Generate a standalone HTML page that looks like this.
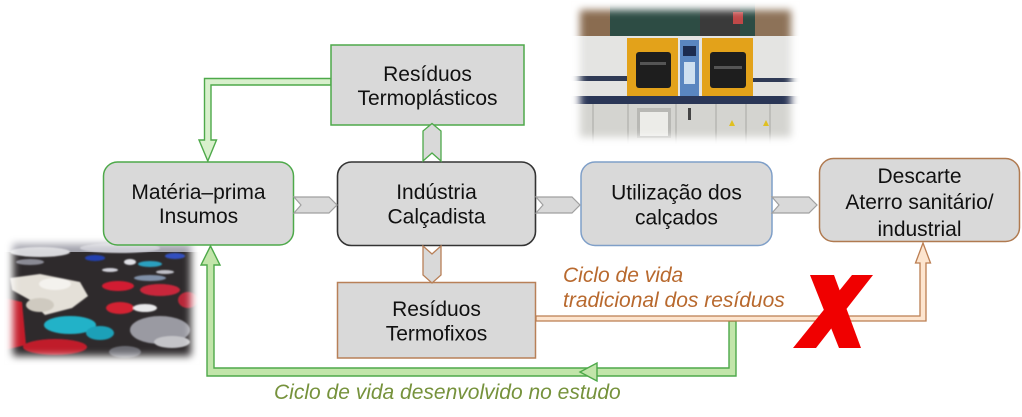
<!DOCTYPE html>
<html><head><meta charset="utf-8"><style>
html,body{margin:0;padding:0;background:#fff;}
svg{display:block;}
text{font-family:"Liberation Sans",Arial,sans-serif;}
</style></head><body>
<svg width="1022" height="417" viewBox="0 0 1022 417" xmlns="http://www.w3.org/2000/svg">
<defs>
<filter id="fs" filterUnits="userSpaceOnUse" x="0" y="200" width="260" height="217"><feGaussianBlur stdDeviation="0.8"/></filter>
<filter id="fb" filterUnits="userSpaceOnUse" x="0" y="0" width="1022" height="417"><feGaussianBlur stdDeviation="4"/></filter>
<clipPath id="c1"><rect x="571" y="1" width="229" height="145"/></clipPath>
<clipPath id="c2"><rect x="4" y="235" width="196" height="130"/></clipPath>
</defs>

<!-- Machine photo -->
<g clip-path="url(#c1)">
<rect x="565" y="0" width="240" height="150" fill="#d6d6d4"/>
<rect x="565" y="0" width="240" height="38" fill="#2d4c44"/>
<rect x="565" y="0" width="45" height="38" fill="#8a6c50"/>
<rect x="755" y="0" width="50" height="38" fill="#8d7258"/>
<rect x="700" y="0" width="40" height="40" fill="#3a3a3a"/>
<rect x="733" y="12" width="10" height="12" fill="#c04848"/>
<rect x="565" y="36" width="240" height="62" fill="#e4e4e2"/>
<rect x="565" y="76" width="62" height="5" fill="#2f3a55"/>
<rect x="753" y="78" width="52" height="4" fill="#2f3a55"/>
<rect x="627" y="38" width="51" height="60" fill="#e3a21a"/>
<rect x="636" y="52" width="35" height="36" rx="3" fill="#1e1e1e"/>
<rect x="640" y="62" width="26" height="3" fill="#555"/>
<rect x="680" y="40" width="19" height="58" fill="#5a86c0"/>
<rect x="683" y="46" width="13" height="10" fill="#1c2c50"/>
<rect x="684" y="62" width="11" height="22" fill="#cfe0f0"/>
<rect x="702" y="38" width="51" height="60" fill="#e3a21a"/>
<rect x="710" y="52" width="36" height="36" rx="3" fill="#1e1e1e"/>
<rect x="714" y="66" width="28" height="3" fill="#555"/>
<rect x="565" y="96" width="240" height="8" fill="#2a3656"/>
<rect x="565" y="104" width="240" height="46" fill="#d4d4d0"/>
<g stroke="#a8a8a4" stroke-width="1">
<line x1="593" y1="104" x2="593" y2="145"/>
<line x1="628" y1="104" x2="628" y2="145"/>
<line x1="676" y1="104" x2="676" y2="145"/>
<line x1="716" y1="104" x2="716" y2="145"/>
<line x1="746" y1="104" x2="746" y2="145"/>
<line x1="770" y1="104" x2="770" y2="145"/>
</g>
<rect x="637" y="108" width="34" height="30" fill="#b8b8b4"/>
<rect x="640" y="112" width="28" height="24" fill="#ecece8"/>
<rect x="688" y="108" width="3" height="12" fill="#444"/>
<polygon points="729,126 732,120 735,126" fill="#e0c020"/>
<polygon points="763,126 766,120 769,126" fill="#e0c020"/>
</g>
<rect x="571" y="1" width="229" height="145" fill="none" stroke="#fff" stroke-width="18" filter="url(#fb)"/>

<!-- Clothes photo -->
<g clip-path="url(#c2)">
<rect x="0" y="230" width="210" height="140" fill="#2e2a2c"/>
<rect x="0" y="230" width="210" height="22" fill="#a2a2ac"/>
<g filter="url(#fs)">
<ellipse cx="40" cy="252" rx="30" ry="5" fill="#d8d8dc"/>
<ellipse cx="120" cy="248" rx="40" ry="5" fill="#c8c8d0"/>
<ellipse cx="30" cy="262" rx="14" ry="3" fill="#8a8a94"/>
<ellipse cx="95" cy="258" rx="10" ry="3" fill="#2040b0"/>
<ellipse cx="130" cy="262" rx="6" ry="3" fill="#e0e0e6"/>
<ellipse cx="150" cy="264" rx="12" ry="3" fill="#2aa0c0"/>
<ellipse cx="175" cy="256" rx="10" ry="3" fill="#3050c0"/>
<ellipse cx="110" cy="270" rx="8" ry="2" fill="#d0d0d8"/>
<ellipse cx="165" cy="272" rx="9" ry="2" fill="#c0c0c8"/>
<polygon points="10,278 40,274 80,282 88,296 72,308 45,315 30,300 12,290" fill="#e4e0d8"/>
<ellipse cx="55" cy="284" rx="16" ry="6" fill="#f4f2ee"/>
<ellipse cx="40" cy="305" rx="14" ry="7" fill="#cfcac0"/>
<ellipse cx="118" cy="286" rx="16" ry="5" fill="#d21e30"/>
<ellipse cx="160" cy="290" rx="20" ry="6" fill="#c8283a"/>
<ellipse cx="188" cy="300" rx="10" ry="8" fill="#b82838"/>
<polygon points="4,298 22,302 26,345 4,350" fill="#c41c2c"/>
<ellipse cx="120" cy="308" rx="14" ry="6" fill="#d22030"/>
<ellipse cx="145" cy="308" rx="12" ry="4" fill="#e8e8ea"/>
<ellipse cx="70" cy="325" rx="26" ry="9" fill="#22b2c8"/>
<ellipse cx="100" cy="333" rx="14" ry="7" fill="#1aa0b8"/>
<ellipse cx="55" cy="347" rx="32" ry="8" fill="#c01c2c"/>
<ellipse cx="160" cy="330" rx="30" ry="14" fill="#9a9aa2"/>
<ellipse cx="172" cy="342" rx="18" ry="6" fill="#c4c4c8"/>
<ellipse cx="125" cy="352" rx="16" ry="6" fill="#6a6a72"/>
<ellipse cx="150" cy="278" rx="16" ry="3" fill="#8090a8"/>
</g>
</g>
<rect x="4" y="235" width="196" height="130" fill="none" stroke="#fff" stroke-width="18" filter="url(#fb)"/>

<!-- Green top connector (Termoplasticos -> Materia) -->
<path d="M331,78.5 L204.5,78.5 L204.5,140 L199,140 L207.8,161 L216.5,140 L211,140 L211,85 L331,85 Z" fill="#d8f0cc" stroke="#4ea94a" stroke-width="1.4"/>

<!-- Green bottom connector -->
<path d="M729,321 L736,321 L736,376 L207,376 L207,265 L201,265 L210.5,246 L220,265 L214,265 L214,368 L729,368 Z" fill="#c2e5aa" stroke="#4ea94a" stroke-width="1.4"/>
<path d="M580,372 L597,363 L597,381 Z" fill="#c2e5aa" stroke="#4ea94a" stroke-width="1.4"/>

<!-- Brown connector -->
<path d="M536,316 L920,316 L920,263 L915.5,263 L923,243 L930.5,263 L926,263 L926,321 L536,321 Z" fill="#fde5cf" stroke="#bb7e52" stroke-width="1.3"/>

<!-- Boxes -->
<rect x="331" y="45" width="193" height="80" fill="#d9d9d9" stroke="#4ea94a" stroke-width="1.5"/>
<rect x="103.5" y="162" width="190" height="83" rx="14" fill="#d9d9d9" stroke="#4ea94a" stroke-width="1.5"/>
<rect x="337.5" y="162" width="198" height="83.5" rx="14" fill="#d9d9d9" stroke="#333" stroke-width="1.6"/>
<rect x="581" y="162" width="191" height="83.5" rx="14" fill="#d9d9d9" stroke="#7f9fc8" stroke-width="1.5"/>
<rect x="819.5" y="158.5" width="200" height="83" rx="14" fill="#d9d9d9" stroke="#b07a50" stroke-width="1.5"/>
<rect x="337.5" y="282.5" width="198" height="75.5" fill="#d9d9d9" stroke="#b88058" stroke-width="1.5"/>

<!-- Chevron arrows -->
<g fill="#d9d9d9" stroke="#a0a0a0" stroke-width="1.2">
<path d="M294,197 L329,197 L337,205 L329,213 L294,213 L301,205 Z"/>
<path d="M536,197 L572,197 L580,205 L572,213 L536,213 L543,205 Z"/>
<path d="M772,197 L809,197 L817,205 L809,213 L772,213 L779,205 Z"/>
</g>
<path d="M423,161 L432,153 L441,161 L441,131 L432,123.5 L423,131 Z" fill="#d9d9d9" stroke="#4ea94a" stroke-width="1.3"/>
<path d="M423,246 L432,254 L441,246 L441,275 L432,283 L423,275 Z" fill="#d9d9d9" stroke="#b88058" stroke-width="1.3"/>

<!-- Red X -->
<polygon points="810,275 834,275 861,348 839,348" fill="#f00000"/>
<polygon points="852,275 873,275 816,348 793,348" fill="#f00000"/>

<!-- Box text -->
<g font-size="21" fill="#111" text-anchor="middle">
<text x="427.5" y="81">Resíduos</text>
<text x="427.5" y="105">Termoplásticos</text>
<text x="198.5" y="199">Matéria–prima</text>
<text x="198.5" y="223">Insumos</text>
<text x="436.5" y="199">Indústria</text>
<text x="436.5" y="223.5">Calçadista</text>
<text x="676.5" y="199.5">Utilização dos</text>
<text x="676.5" y="224.5">calçados</text>
<text x="919.5" y="183">Descarte</text>
<text x="919.5" y="209">Aterro sanitário/</text>
<text x="919.5" y="236">industrial</text>
<text x="436.5" y="316">Resíduos</text>
<text x="436.5" y="340.5">Termofixos</text>
</g>

<!-- Italic labels -->
<g font-size="21" font-style="italic">
<text x="563" y="282" fill="#b8692e">Ciclo de vida</text>
<text x="563" y="307" fill="#b8692e">tradicional dos resíduos</text>
<text x="274" y="399" fill="#76923c">Ciclo de vida desenvolvido no estudo</text>
</g>
</svg>
</body></html>
